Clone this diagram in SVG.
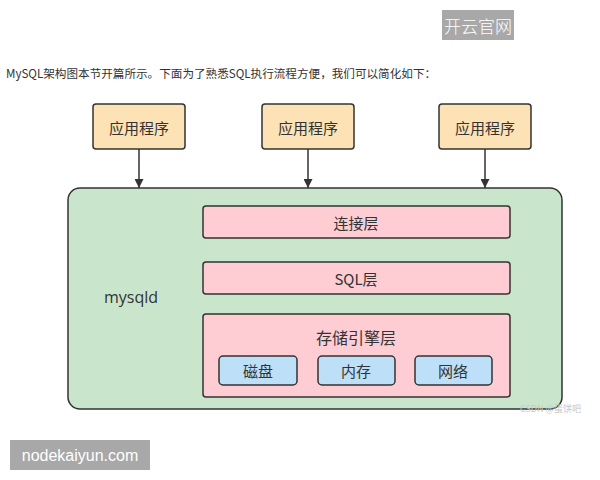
<svg xmlns="http://www.w3.org/2000/svg" width="600" height="480" viewBox="0 0 600 480">
<style>
text{font-family:"Noto Sans CJK SC","Noto Sans",sans-serif;}
.app{fill:#fde2b5;stroke:#333;stroke-width:1.5;}
.layer{fill:#fdcdd3;stroke:#333;stroke-width:1.5;}
.dev{fill:#bddff7;stroke:#333;stroke-width:1.5;}
.t{font-size:15px;fill:#333;text-anchor:middle;dominant-baseline:central;}
.con{stroke:#333;stroke-width:1.5;fill:none;}
</style>
<defs>
<marker id="ah" viewBox="0 0 10 10" refX="10" refY="5" markerWidth="10" markerHeight="9" orient="auto" markerUnits="userSpaceOnUse">
<path d="M0,0L10,5L0,10z" fill="#333"/>
</marker>
</defs>
<rect width="600" height="480" fill="#fff"/>
<g id="badge-top">
<rect x="442" y="10" width="72" height="30" fill="#a8a8a8"/>
<text x="478" y="25" fill="#fff" font-size="17" font-weight="300" text-anchor="middle" dominant-baseline="central">开云官网</text>
</g>
<text x="6" y="78" font-size="11.6" fill="#333">MySQL架构图本节开篇所示。下面为了熟悉SQL执行流程方便，我们可以简化如下：</text>
<g id="mysqld">
<rect x="68" y="188" width="494" height="221" rx="12" fill="#c9e6cc" stroke="#333" stroke-width="1.5"/>
<text x="131" y="297" font-size="16" fill="#333" text-anchor="middle" dominant-baseline="central" style="font-family:'Open Sans','Noto Sans',sans-serif">mysqld</text>
</g>
<g id="app1"><rect class="app" x="93" y="104" width="92" height="45" rx="3"/><text class="t" x="139" y="127">应用程序</text></g>
<g id="app2"><rect class="app" x="262" y="104" width="92" height="45" rx="3"/><text class="t" x="308" y="127">应用程序</text></g>
<g id="app3"><rect class="app" x="439" y="104" width="92" height="45" rx="3"/><text class="t" x="485" y="127">应用程序</text></g>
<g id="connectors">
<line class="con" x1="139" y1="149" x2="139" y2="188" marker-end="url(#ah)"/>
<line class="con" x1="308" y1="149" x2="308" y2="188" marker-end="url(#ah)"/>
<line class="con" x1="485" y1="149" x2="485" y2="188" marker-end="url(#ah)"/>
</g>
<g id="conn-layer"><rect class="layer" x="203" y="206" width="307" height="32" rx="3"/><text class="t" x="356" y="222">连接层</text></g>
<g id="sql-layer"><rect class="layer" x="203" y="262" width="307" height="32" rx="3"/><text class="t" x="356" y="278">SQL层</text></g>
<g id="storage-layer"><rect class="layer" x="203" y="314" width="307" height="83" rx="3"/><text class="t" x="356" y="337" style="font-size:16px">存储引擎层</text></g>
<g id="disk"><rect class="dev" x="219" y="356" width="78" height="29" rx="4"/><text class="t" x="258" y="370">磁盘</text></g>
<g id="mem"><rect class="dev" x="318" y="356" width="77" height="29" rx="4"/><text class="t" x="356" y="370">内存</text></g>
<g id="net"><rect class="dev" x="415" y="356" width="77" height="29" rx="4"/><text class="t" x="453" y="370">网络</text></g>
<text x="520" y="412" font-size="9" fill="#c8c8c8">CSDN @蛋饼吧</text>
<g id="badge-bottom">
<rect x="10" y="440" width="140" height="30" fill="#a8a8a8"/>
<text x="80" y="455" fill="#fff" font-size="16" text-anchor="middle" dominant-baseline="central" style="font-family:'Liberation Sans',sans-serif">nodekaiyun.com</text>
</g>
</svg>
